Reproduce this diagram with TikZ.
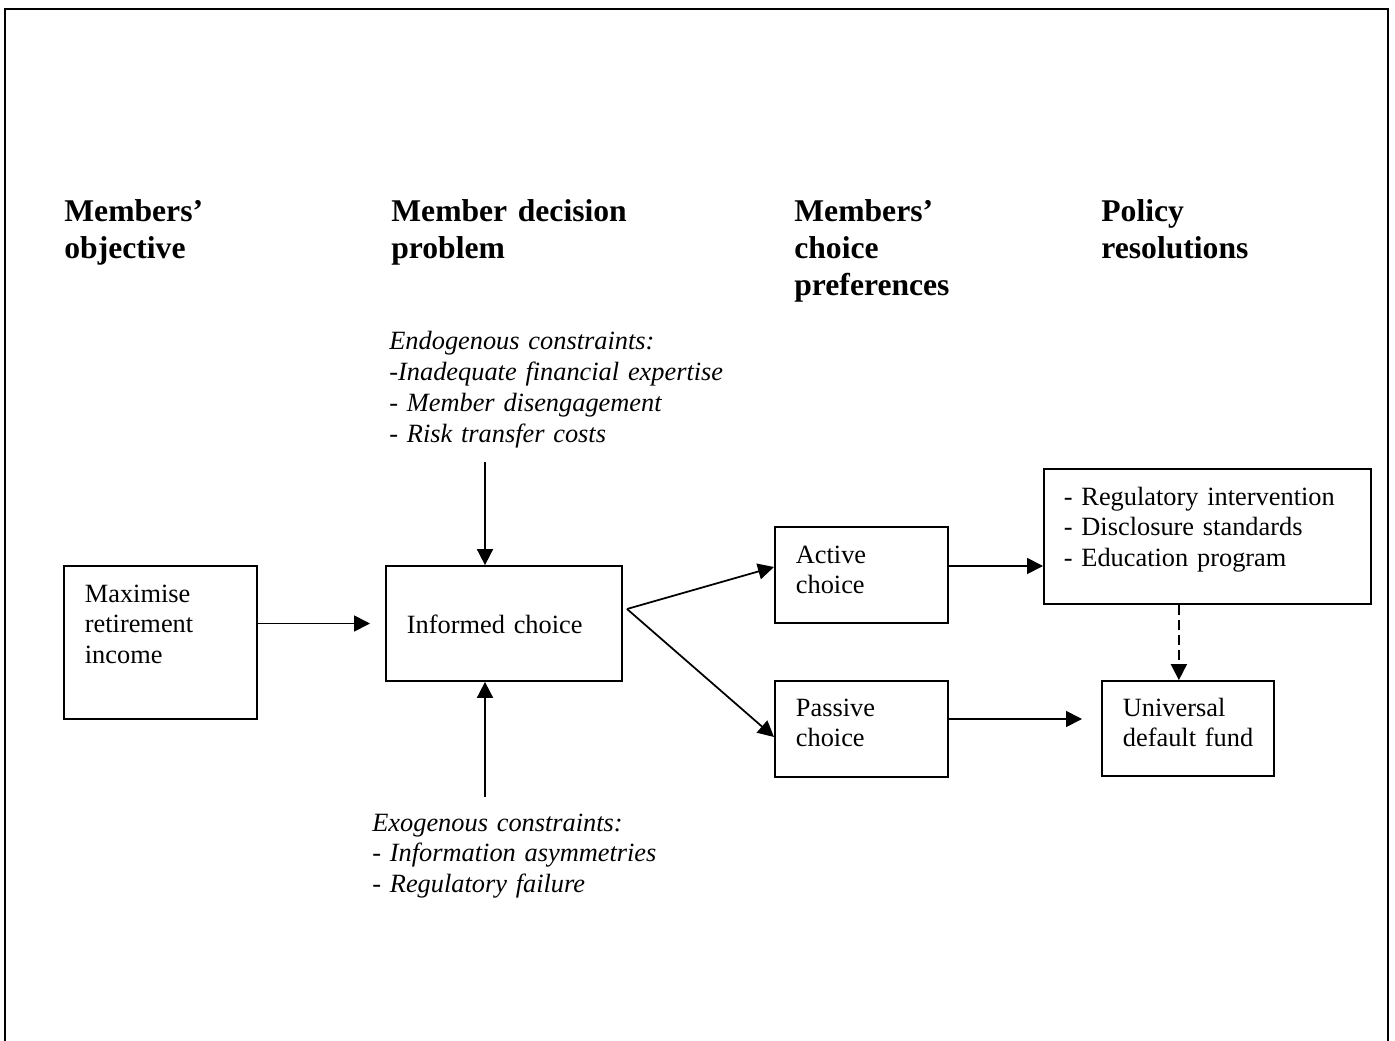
\documentclass[tikz,border=0pt]{standalone}
\usepackage{fontspec}
\setmainfont{Liberation Serif}
\usetikzlibrary{arrows.meta,calc}
\begin{document}
\begin{tikzpicture}[x=0.2mm,y=-0.2mm,
    box/.style={draw,line width=1pt,anchor=base west,inner ysep=0pt,inner xsep=4.2mm,
      align=left,font=\fontsize{15}{17.6}\selectfont},
    head/.style={anchor=base west,inner sep=0pt,text width=50mm,align=left,
      font=\fontsize{18}{21}\selectfont\bfseries},
    note/.style={anchor=base west,inner sep=0pt,text width=75mm,align=left,
      font=\fontsize{15}{17.6}\selectfont\itshape},
    arr/.style={line width=1pt,-{Triangle[length=3.2mm,width=3.2mm]}}]
    \useasboundingbox (0,0) rectangle (1395,1041);
    \draw[line width=1.1pt] (5,1041) -- (5,9) -- (1388,9) -- (1388,1041);

    \node[head] (h1) at (64,222) {Members'\\objective};
    \node[head] (h2) at (391,222) {Member decision\\problem};
    \node[head] (h3) at (794,222) {Members'\\choice\\preferences};
    \node[head] (h4) at (1101,222) {Policy\\resolutions};

    \node[note] (endo) at (389,350) {Endogenous constraints:\\-Inadequate financial expertise\\- Member disengagement\\- Risk transfer costs};
    \node[note] (exo) at (372,831) {Exogenous constraints:\\- Information asymmetries\\- Regulatory failure};

    \node[box,text width=30.2mm,text height=7.2mm,text depth=23.4mm] (max) at (63,602) {Maximise\\retirement\\income};
    \node[box,text width=38.8mm,text height=13.4mm,text depth=9.6mm] (informed) at (385,633) {Informed choice};
    \node[box,text width=26.2mm,text height=7.2mm,text depth=12mm] (active) at (774,563) {Active\\choice};
    \node[box,text width=26.2mm,text height=7mm,text depth=12.2mm] (passive) at (774,716) {Passive\\choice};
    \node[box,inner xsep=4mm,text width=57.4mm,text height=7.2mm,text depth=19.8mm] (policy) at (1043,505) {- Regulatory intervention\\- Disclosure standards\\- Education program};
    \node[box,text width=26mm,text height=7mm,text depth=12mm] (default) at (1101,716) {Universal\\default~fund};

    \coordinate (endotail) at (485,462);
    \coordinate (exotail) at (485,797);
    \coordinate (fork) at (627,609);
    \coordinate (aout) at ([yshift=1.8mm]active.east);
    \coordinate (pout) at ([yshift=2mm]passive.east);
    \coordinate (dtop) at ([xshift=-5.7mm]policy.south);

    \draw[arr,shorten >=3mm] (informed.west -| max.east) -- (informed.west);
    \draw[arr] (endotail) -- (endotail |- informed.north);
    \draw[arr] (exotail) -- (exotail |- informed.south);
    \draw[arr] (fork) -- ([yshift=1.6mm]active.west);
    \draw[arr] (fork) -- ([yshift=-1.6mm]passive.west);
    \draw[arr] (aout) -- (aout -| policy.west);
    \draw[arr,shorten >=3.8mm] (pout) -- (pout -| default.west);
    \draw[arr,dash pattern=on 2mm off 1mm] (dtop) -- (dtop |- default.north);
\end{tikzpicture}
\end{document}
